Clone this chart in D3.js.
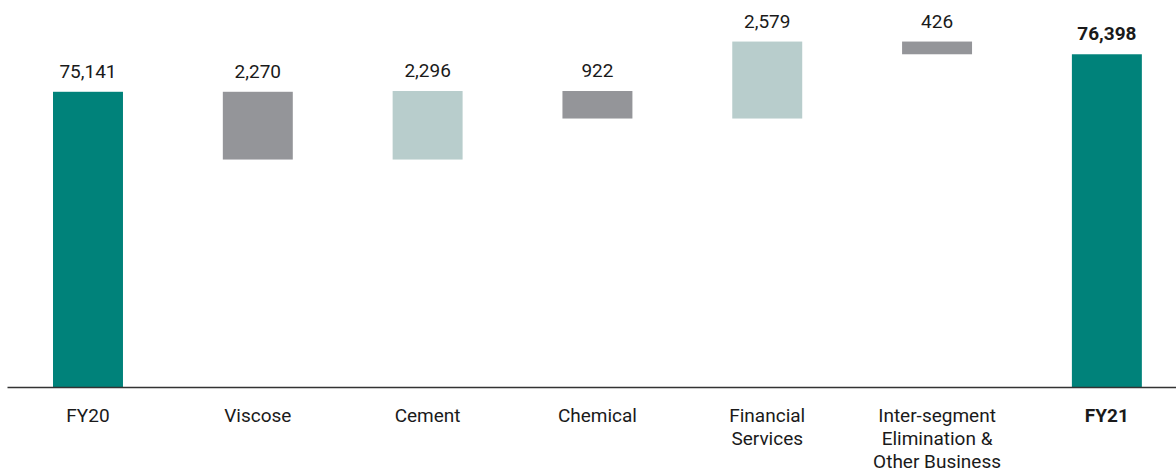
<!DOCTYPE html>
<meta charset="utf-8">
<style>
body { margin: 0; background: #fff; }
text { font-family: Roboto, "Liberation Sans", sans-serif; fill: #1a1a1a; }
.axis path { stroke: #333; stroke-width: 1.6px; }
</style>
<body>
<svg width="1176" height="472"></svg>
<script src="https://d3js.org/d3.v7.min.js"></script>
<script>
// waterfall data, FY20 -> FY21
var categories = ["FY20", "Viscose", "Cement", "Chemical", "Financial Services",
                  "Inter-segment Elimination & Other Business", "FY21"];
var labelLines = [["FY20"], ["Viscose"], ["Cement"], ["Chemical"], ["Financial", "Services"],
                  ["Inter-segment", "Elimination &", "Other Business"], ["FY21"]];
var values = [75141, -2270, 2296, -922, 2579, -426, 76398];
var kinds = ["total", "down", "up", "down", "up", "down", "total"];

var colors = { total: "#00827a", down: "#949599", up: "#b8cdcc" };

var svg = d3.select("svg"),
    baseY = 387;

// running totals
var data = [], run = 0;
categories.forEach(function(c, i) {
  var d = { cat: c, lines: labelLines[i], value: values[i], kind: kinds[i] };
  if (kinds[i] == "total") { d.start = 0; d.end = values[i]; run = values[i]; }
  else { d.start = run; run += values[i]; d.end = run; }
  data.push(d);
});

var x = d3.scaleBand()
    .domain(categories)
    .range([7, 1176])
    .paddingInner(0.588)
    .paddingOuter(0.236)
    .align(0.574);

// axis does not start at zero
var y = d3.scaleLinear()
    .domain([65250, 77000])
    .range([baseY, 36.3]);

function yv(v) { return v == 0 ? baseY : y(v); }

svg.selectAll(".bar")
    .data(data)
  .enter().append("rect")
    .attr("class", "bar")
    .attr("x", function(d) { return x(d.cat); })
    .attr("width", x.bandwidth())
    .attr("y", function(d) { return Math.min(yv(d.start), yv(d.end)); })
    .attr("height", function(d) { return Math.abs(yv(d.start) - yv(d.end)); })
    .attr("fill", function(d) { return colors[d.kind]; });

svg.append("g")
    .attr("class", "axis")
    .attr("transform", "translate(0," + baseY + ")")
    .call(d3.axisBottom(x).tickSize(0).tickSizeOuter(0).tickFormat(""));

// value labels
svg.selectAll(".val")
    .data(data)
  .enter().append("text")
    .attr("class", "val")
    .attr("x", function(d) { return x(d.cat) + x.bandwidth() / 2; })
    .attr("y", function(d) { return Math.min(yv(d.start), yv(d.end)) - 14; })
    .attr("text-anchor", "middle")
    .style("font-size", "19px")
    .style("font-weight", function(d, i) { return i == data.length - 1 ? "bold" : "normal"; })
    .text(function(d) { return d3.format(",")(Math.abs(d.value)); });

// category labels
var lab = svg.selectAll(".cat")
    .data(data)
  .enter().append("text")
    .attr("class", "cat")
    .attr("x", function(d) { return x(d.cat) + x.bandwidth() / 2; })
    .attr("y", 421.5)
    .attr("text-anchor", "middle")
    .style("font-size", "19px")
    .style("font-weight", function(d, i) { return i == data.length - 1 ? "bold" : "normal"; });

lab.selectAll("tspan")
    .data(function(d) { return d.lines; })
  .enter().append("tspan")
    .attr("x", function() { var p = d3.select(this.parentNode).datum(); return x(p.cat) + x.bandwidth() / 2; })
    .attr("dy", function(d, i) { return i == 0 ? 0 : 23.3; })
    .text(function(d) { return d; });
</script>
